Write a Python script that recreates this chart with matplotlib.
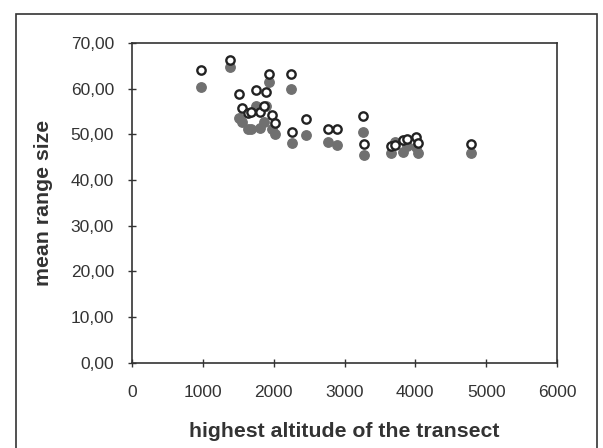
import matplotlib.pyplot as plt
from matplotlib.patches import Rectangle
from matplotlib.ticker import FuncFormatter

plt.rcParams['font.family'] = ['Liberation Sans', 'DejaVu Sans']

# highest altitude of each transect (m)
altitude = [980, 1390, 1930, 2240, 1505, 1750, 1895, 1550, 1635, 1675,
            1805, 1870, 1980, 2025, 2255, 2450, 2770, 2890, 3265, 3275,
            3650, 3710, 3830, 3880, 4015, 4035, 4790]
# mean range size, open circles
range_open = [64.1, 66.2, 63.3, 63.1, 58.8, 59.6, 59.2, 55.8, 54.7, 54.9,
              54.9, 56.3, 54.3, 52.5, 50.4, 53.3, 51.1, 51.1, 54.0, 47.9,
              47.4, 47.6, 48.7, 49.0, 49.3, 48.2, 47.8]
# mean range size, filled circles
range_filled = [60.4, 64.7, 61.5, 60.0, 53.5, 56.3, 56.2, 52.8, 51.2, 51.2,
                51.4, 52.7, 51.2, 50.0, 48.1, 49.9, 48.4, 47.7, 50.4, 45.4,
                45.8, 48.4, 46.1, 47.4, 47.2, 45.8, 45.8]

xticks = [0, 1000, 2000, 3000, 4000, 5000, 6000]
yticks = [0, 10, 20, 30, 40, 50, 60, 70]

fig = plt.figure(figsize=(6.03, 4.48), dpi=100)
# outer frame of the chart area (bottom edge runs off the picture)
fig.patches.append(Rectangle((16 / 603, -0.05), 581 / 603, 1.05 - 14 / 448,
                             transform=fig.transFigure, fill=False,
                             edgecolor='#333333', linewidth=1.2))

ax = fig.add_axes([132 / 603, 85.5 / 448, 425 / 603, 319.5 / 448])

ax.scatter(altitude, range_filled, s=46, color='#707070', edgecolor='#707070',
           linewidth=1, zorder=3, clip_on=False)
ax.scatter(altitude, range_open, s=36, facecolor='white', edgecolor='#222222',
           linewidth=1.7, zorder=4, clip_on=False)

ax.set_xlim(0, 6000)
ax.set_ylim(0, 70)
ax.set_xticks(xticks)
ax.set_yticks(yticks)
ax.yaxis.set_major_formatter(FuncFormatter(lambda v, p: f"{v:.2f}".replace('.', ',')))

for s in ax.spines.values():
    s.set_color('#333333')
    s.set_linewidth(1.2)
ax.tick_params(axis='both', direction='inout', length=6, width=1, color='#333333',
               labelsize=12.5, labelcolor='#333333')
ax.tick_params(axis='x', pad=13)
ax.tick_params(axis='y', pad=10)

ax.set_xlabel('highest altitude of the transect', fontsize=15.3, fontweight='bold',
              color='#333333', labelpad=16)
ax.set_ylabel('mean range size', fontsize=15.3, fontweight='bold',
              color='#333333', labelpad=13)

fig.savefig('out.png', dpi=100)
